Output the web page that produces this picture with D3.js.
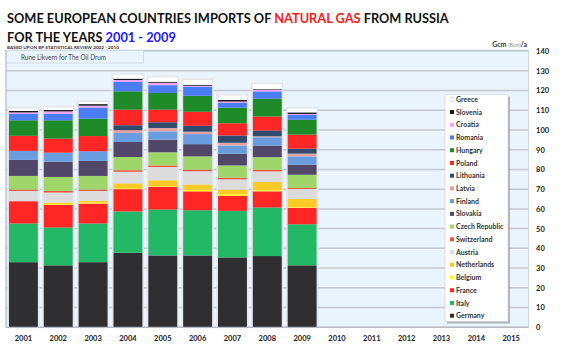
<!DOCTYPE html>
<html>
<head>
<meta charset="utf-8">
<script src="https://cdn.jsdelivr.net/npm/d3@7"></script>
<style>
  html, body { margin: 0; padding: 0; background: #ffffff; }
  #visualization { width: 561px; height: 351px; }
</style>
</head>
<body>
<div id="visualization"></div>
<script>
// Years on the x axis (only 2001 - 2009 have data)
const years = ["2001", "2002", "2003", "2004", "2005", "2006", "2007", "2008", "2009",
               "2010", "2011", "2012", "2013", "2014", "2015"];
const dataYears = ["2001", "2002", "2003", "2004", "2005", "2006", "2007", "2008", "2009"];

// Imports from Russia, Gcm/a
const germany     = [33.0, 31.4, 33.0, 37.8, 36.4, 36.4, 35.4, 36.1, 31.4];
const italy       = [19.6, 19.2, 19.6, 20.9, 23.3, 22.9, 23.6, 24.6, 20.8];
const france      = [11.3, 11.4, 10.1, 11.3, 11.5, 9.6, 7.6, 8.2, 8.3];
const belgium     = [0.0, 0.4, 0.5, 0.4, 0.3, 0.8, 0.8, 0.5, 0.3];
const netherlands = [0.0, 0.8, 0.8, 2.5, 3.0, 2.7, 2.4, 4.2, 4.2];
const austria     = [5.2, 5.1, 5.1, 5.9, 6.7, 6.7, 5.2, 5.4, 5.1];
const switzerland = [0.7, 0.8, 0.7, 0.8, 0.8, 0.8, 0.8, 0.8, 0.5];
const czech       = [6.9, 7.1, 6.9, 6.7, 6.7, 6.7, 6.2, 6.4, 6.7];
const slovakia    = [8.1, 7.7, 7.6, 7.6, 6.4, 6.2, 5.9, 5.9, 5.1];
const finland     = [4.6, 4.6, 4.9, 4.6, 4.2, 5.1, 4.2, 4.2, 4.2];
const latvia      = [0.0, 0.0, 0.0, 1.4, 1.7, 1.2, 1.4, 0.5, 1.4];
const lithuania   = [0.0, 0.0, 0.0, 2.5, 2.9, 3.0, 3.7, 2.9, 2.5];
const poland      = [7.6, 7.1, 7.7, 7.9, 6.4, 7.1, 6.2, 7.1, 7.1];
const hungary     = [7.9, 9.3, 8.8, 9.3, 8.4, 8.1, 7.9, 9.0, 7.6];
const romania     = [3.2, 3.3, 5.6, 4.7, 4.0, 4.6, 2.4, 3.7, 2.4];
const croatia     = [0.8, 1.2, 1.0, 1.0, 1.2, 0.5, 0.7, 1.0, 0.5];
const slovenia    = [0.7, 0.7, 0.8, 0.7, 0.5, 0.5, 0.8, 0.3, 0.8];
const greece      = [1.2, 1.2, 1.0, 2.0, 2.2, 2.4, 2.2, 2.4, 1.9];

// Stack order, bottom to top
const countries = ["Germany", "Italy", "France", "Belgium", "Netherlands", "Austria",
                   "Switzerland", "Czech Republic", "Slovakia", "Finland", "Latvia",
                   "Lithuania", "Poland", "Hungary", "Romania", "Croatia", "Slovenia", "Greece"];
const countryValues = [germany, italy, france, belgium, netherlands, austria, switzerland,
                       czech, slovakia, finland, latvia, lithuania, poland, hungary,
                       romania, croatia, slovenia, greece];
const countryColors = ["#2f2f31", "#22b866", "#ff2626", "#ffff1a", "#ffc926", "#dcdcdc",
                       "#f0503c", "#9fd66a", "#514768", "#6a9ddf", "#e3a3a3",
                       "#2f4b6e", "#ff2626", "#1f8b28", "#4a7cf5", "#f7a3f2", "#1b1b1b", "#ffffff"];

const yTicks = [0, 10, 20, 30, 40, 50, 60, 70, 80, 90, 100, 110, 120, 130, 140];

// Title lines are split in coloured pieces
const titleLine1 = [["SOME EUROPEAN COUNTRIES IMPORTS OF ", "#111"], ["NATURAL GAS", "#ff1a1a"], [" FROM RUSSIA", "#111"]];
const titleLine2 = [["FOR THE YEARS ", "#111"], ["2001 - 2009", "#1a1aff"]];

// Put coloured pieces side by side as separate texts, sized to fit a width
function richLine(parent, x, y, parts, targetWidth, baseSize) {
    const texts = parts.map(p => parent.append("text")
        .attr("y", y)
        .attr("font-size", baseSize).attr("font-weight", "bold")
        .attr("fill", p[1])
        .style("white-space", "pre")
        .attr("xml:space", "preserve")
        .text(p[0]));
    let total = d3.sum(texts, t => t.node().getComputedTextLength());
    const size = baseSize * targetWidth / total;
    let cx = x;
    texts.forEach(t => {
        t.attr("font-size", size).attr("x", cx);
        cx += t.node().getComputedTextLength();
    });
}

function createChart() {
    const width = 561;
    const height = 351;
    const plotLeft = 6;
    const plotRight = 528.6;
    const plotTop = 51;
    const plotBottom = 327.3;

    // Build rows: one per data year, keyed by country
    const rows = dataYears.map((yr, i) => {
        const row = { year: yr };
        countries.forEach((c, j) => { row[c] = countryValues[j][i]; });
        return row;
    });

    const x = d3.scaleBand()
        .domain(years)
        .range([plotLeft, plotRight])
        .paddingInner(0.17)
        .paddingOuter(0.085);

    const y = d3.scaleLinear()
        .domain([0, 140])
        .range([plotBottom, plotTop]);

    const color = d3.scaleOrdinal().domain(countries).range(countryColors);

    const series = d3.stack().keys(countries)(rows);

    const svg = d3.create("svg")
        .attr("width", width)
        .attr("height", height)
        .attr("viewBox", [0, 0, width, height])
        .attr("style", "font-family: Lato, 'Open Sans', sans-serif;");

    // attach first so text can be measured
    document.getElementById("visualization").appendChild(svg.node());

    // Titles
    richLine(svg, 7, 23, titleLine1, 442, 15);
    richLine(svg, 7, 42.3, titleLine2, 169, 15);

    svg.append("text")
        .attr("x", 7).attr("y", 49)
        .attr("font-size", 4.4).attr("font-weight", "bold")
        .attr("textLength", 112).attr("lengthAdjust", "spacingAndGlyphs")
        .attr("fill", "#333")
        .text("BASED UPON BP STATISTICAL REVIEW 2002 - 2010");

    const unit = svg.append("text")
        .attr("x", 527).attr("y", 47)
        .attr("text-anchor", "end")
        .attr("font-size", 7).attr("font-weight", "bold")
        .attr("fill", "#333");
    unit.append("tspan").text("Gcm ");
    unit.append("tspan").attr("font-size", 5).attr("font-weight", "normal").attr("fill", "#888").text("(Bcm)");
    unit.append("tspan").text("/a");

    // Plot background
    svg.append("rect")
        .attr("x", plotLeft).attr("y", plotTop - 1)
        .attr("width", plotRight - plotLeft).attr("height", plotBottom - plotTop + 1)
        .attr("fill", "#eaf4fd")
        .attr("stroke", "#c9d3dc").attr("stroke-width", 0.8);

    // Gridlines
    svg.append("g")
        .selectAll("line")
        .data(yTicks)
        .join("line")
        .attr("x1", plotLeft).attr("x2", plotRight)
        .attr("y1", d => y(d)).attr("y2", d => y(d))
        .attr("stroke", "#c2c8cd").attr("stroke-width", 1.5);

    // Credit box
    svg.append("rect")
        .attr("x", plotLeft + 0.5).attr("y", plotTop - 0.5)
        .attr("width", 137).attr("height", 12.5)
        .attr("fill", "#eaf4fd").attr("stroke", "#cfd8e0").attr("stroke-width", 0.8);
    svg.append("text")
        .attr("x", 21).attr("y", 59.8)
        .attr("font-size", 7)
        .attr("textLength", 85).attr("lengthAdjust", "spacingAndGlyphs")
        .attr("fill", "#444")
        .text("Rune Likvern for The Oil Drum");

    // Bar outlines (light frame round each stack)
    svg.append("g")
        .selectAll("rect")
        .data(rows)
        .join("rect")
        .attr("x", d => x(d.year) - 0.8)
        .attr("y", d => y(d3.sum(countries, c => d[c])) - 0.8)
        .attr("width", x.bandwidth() + 1.6)
        .attr("height", d => y(0) - y(d3.sum(countries, c => d[c])) + 0.8)
        .attr("fill", "none")
        .attr("stroke", "#e4e7ea").attr("stroke-width", 1.8);

    // Stacked bars
    svg.append("g")
        .selectAll("g")
        .data(series)
        .join("g")
        .attr("fill", d => color(d.key))
        .selectAll("rect")
        .data(d => d)
        .join("rect")
        .attr("x", d => x(d.data.year))
        .attr("y", d => y(d[1]))
        .attr("height", d => y(d[0]) - y(d[1]))
        .attr("width", x.bandwidth());

    // Left and bottom frame
    svg.append("line")
        .attr("x1", plotLeft).attr("x2", plotLeft)
        .attr("y1", plotTop - 1).attr("y2", plotBottom)
        .attr("stroke", "#b6bcc2").attr("stroke-width", 1);
    svg.append("line")
        .attr("x1", plotLeft).attr("x2", plotRight)
        .attr("y1", plotBottom).attr("y2", plotBottom)
        .attr("stroke", "#b6bcc2").attr("stroke-width", 1.2);

    // Axes
    const gx = svg.append("g")
        .attr("transform", `translate(0,${plotBottom})`)
        .call(d3.axisBottom(x).tickSize(0).tickPadding(8))
        .call(g => g.select(".domain").remove());
    gx.selectAll("text")
        .attr("font-family", "Lato, 'Open Sans', sans-serif")
        .attr("font-size", 7.5).attr("font-weight", "bold").attr("fill", "#222");

    const gy = svg.append("g")
        .attr("transform", `translate(${plotRight},0)`)
        .call(d3.axisRight(y).tickValues(yTicks).tickSize(0).tickPadding(7.5))
        .call(g => g.select(".domain").remove());
    gy.selectAll("text")
        .attr("font-family", "Lato, 'Open Sans', sans-serif")
        .attr("font-size", 7.5).attr("font-weight", "bold").attr("fill", "#222");

    // Legend, top item = top of stack
    const legendX = 445;
    const legendY = 94.5;
    const legendW = 63;
    const legendH = 227;
    svg.append("rect")
        .attr("x", legendX + 2).attr("y", legendY + 2)
        .attr("width", legendW).attr("height", legendH)
        .attr("fill", "#9a9a9a").attr("opacity", 0.7);
    svg.append("rect")
        .attr("x", legendX).attr("y", legendY)
        .attr("width", legendW).attr("height", legendH)
        .attr("fill", "#ffffff").attr("stroke", "#cfcfcf").attr("stroke-width", 0.6);

    const legendItems = countries.slice().reverse();
    const ly = d3.scalePoint().domain(legendItems).range([99.3, 315.7]);

    const li = svg.append("g")
        .selectAll("g")
        .data(legendItems)
        .join("g")
        .attr("transform", d => `translate(${legendX + 5},${ly(d)})`);
    li.append("rect")
        .attr("x", 0).attr("y", -2).attr("width", 4).attr("height", 4)
        .attr("fill", d => color(d))
        .attr("stroke", d => d === "Greece" ? "#bbb" : "none").attr("stroke-width", 0.4);
    li.append("text")
        .attr("x", 6).attr("y", 2.6)
        .attr("font-size", 7).attr("font-weight", "bold").attr("fill", "#333")
        .text(d => d);
}

createChart();
</script>
</body>
</html>
